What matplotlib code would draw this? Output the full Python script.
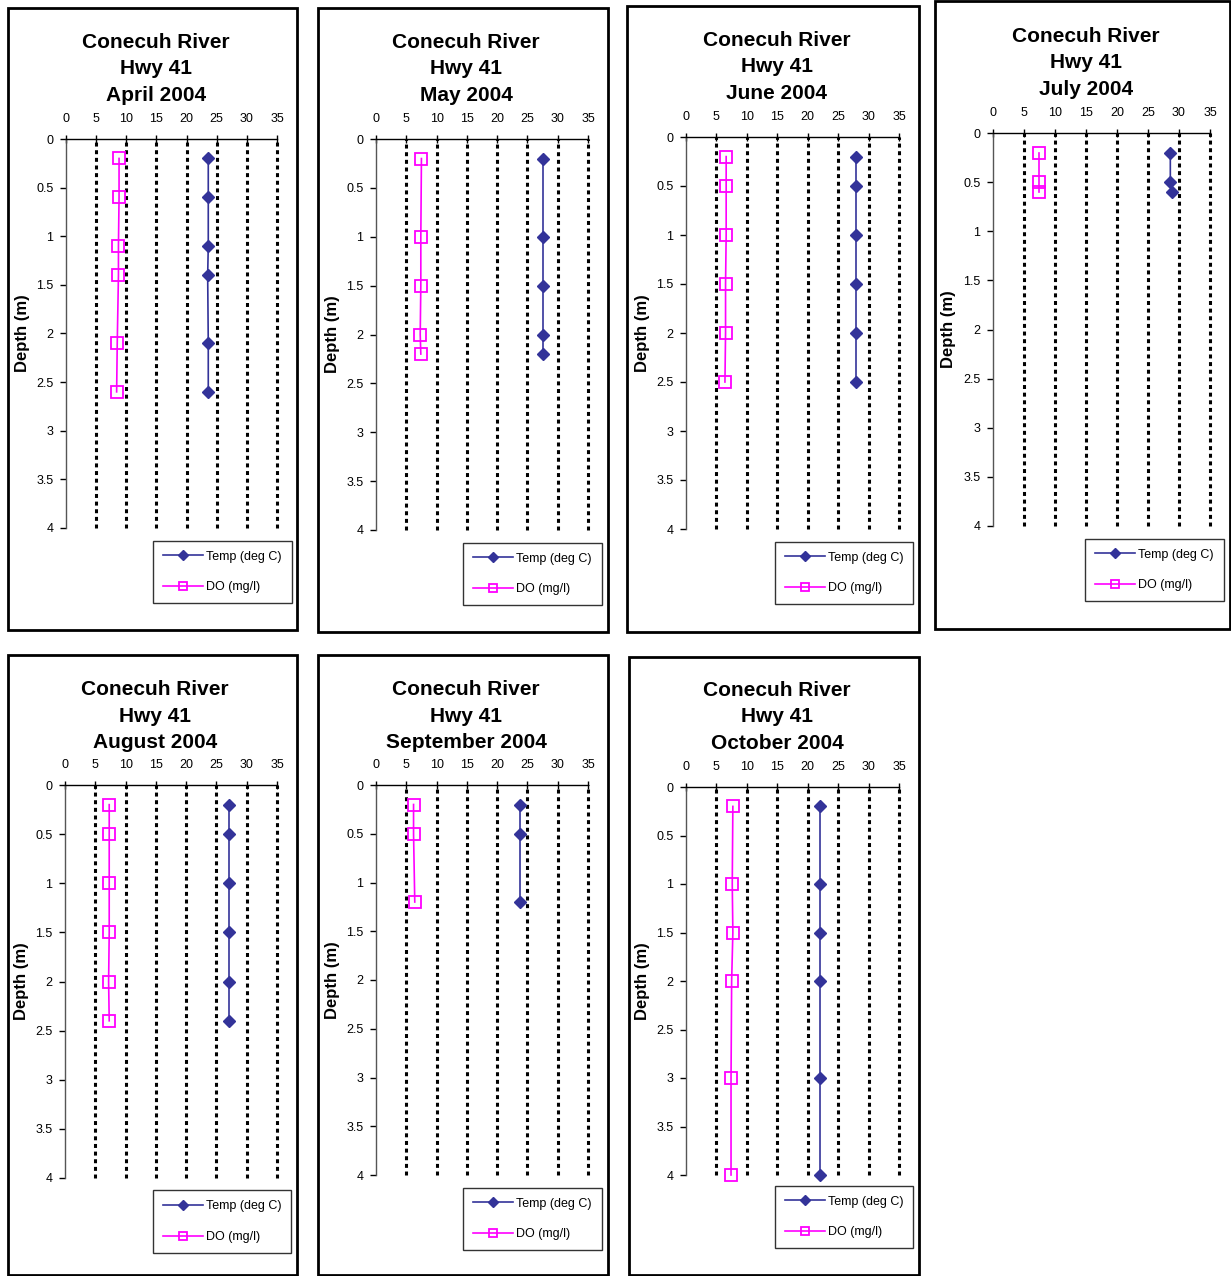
import matplotlib
matplotlib.use("Agg")
import matplotlib.pyplot as plt
from matplotlib.patches import Rectangle

plt.rcParams['font.family'] = ['Liberation Sans', 'DejaVu Sans']

months = ["April 2004", "May 2004", "June 2004", "July 2004",
          "August 2004", "September 2004", "October 2004"]

apr_depth = [0.2, 0.6, 1.1, 1.4, 2.1, 2.6]
apr_temp = [23.6, 23.6, 23.6, 23.5, 23.6, 23.6]
apr_do = [8.8, 8.8, 8.7, 8.7, 8.5, 8.4]

may_depth = [0.2, 1.0, 1.5, 2.0, 2.2]
may_temp = [27.6, 27.6, 27.6, 27.6, 27.6]
may_do = [7.5, 7.4, 7.4, 7.3, 7.4]

jun_depth = [0.2, 0.5, 1.0, 1.5, 2.0, 2.5]
jun_temp = [27.9, 27.9, 27.9, 27.9, 27.9, 27.9]
jun_do = [6.6, 6.6, 6.6, 6.5, 6.5, 6.4]

jul_depth = [0.2, 0.5, 0.6]
jul_temp = [28.6, 28.6, 28.9]
jul_do = [7.4, 7.4, 7.4]

aug_depth = [0.2, 0.5, 1.0, 1.5, 2.0, 2.4]
aug_temp = [27.1, 27.1, 27.1, 27.1, 27.1, 27.1]
aug_do = [7.3, 7.3, 7.3, 7.3, 7.2, 7.3]

sep_depth = [0.2, 0.5, 1.2]
sep_temp = [23.7, 23.7, 23.7]
sep_do = [6.2, 6.2, 6.4]

oct_depth = [0.2, 1.0, 1.5, 2.0, 3.0, 4.0]
oct_temp = [22.1, 22.1, 22.1, 22.1, 22.1, 22.1]
oct_do = [7.7, 7.6, 7.7, 7.5, 7.4, 7.4]

x_ticks = [0, 5, 10, 15, 20, 25, 30, 35]
y_ticks = [0, 0.5, 1, 1.5, 2, 2.5, 3, 3.5, 4]
y_tick_labels = ["0", "0.5", "1", "1.5", "2", "2.5", "3", "3.5", "4"]

data = [(apr_depth, apr_temp, apr_do), (may_depth, may_temp, may_do),
        (jun_depth, jun_temp, jun_do), (jul_depth, jul_temp, jul_do),
        (aug_depth, aug_temp, aug_do), (sep_depth, sep_temp, sep_do),
        (oct_depth, oct_temp, oct_do)]

# layout in pixels: frame (x0,y0,x1,y1), axes (x0,x1,ytop,ybot), title center (x, y_mid), legend (x0,y0,x1,y1)
layout = [
    ((8, 8, 297, 630), (66, 277, 139, 528), (156, 69), (155, 540, 290, 604)),
    ((318, 8, 608, 632), (376, 588, 139, 530), (466, 69), (465, 542, 600, 606)),
    ((627, 6, 919, 632), (686, 899, 137, 529), (777, 67), (776, 541, 912, 605)),
    ((935, 1, 1230, 629), (993, 1210, 133, 526), (1086, 63), (1087, 538, 1222, 602)),
    ((8, 655, 297, 1275), (65, 277, 785, 1178), (155, 716), (154, 1189, 290, 1254)),
    ((318, 655, 608, 1275), (376, 588, 785, 1175), (466, 716), (465, 1187, 600, 1251)),
    ((629, 657, 919, 1275), (686, 899, 787, 1175), (777, 717), (776, 1185, 912, 1249)),
]

W, H = 1231, 1276
fig = plt.figure(figsize=(W / 100, H / 100), dpi=100)

navy = "#333399"
mag = "#FF00FF"

for (month, (dep, temp, do), (fr, axp, tt, lg)) in zip(months, data, layout):
    fx0, fy0, fx1, fy1 = fr
    fig.patches.append(Rectangle((fx0 / W, 1 - fy1 / H), (fx1 - fx0) / W, (fy1 - fy0) / H,
                                 transform=fig.transFigure, fill=False,
                                 edgecolor="black", linewidth=2))
    ax0, ax1, ayt, ayb = axp
    ax = fig.add_axes([ax0 / W, 1 - ayb / H, (ax1 - ax0) / W, (ayb - ayt) / H])
    ax.set_xlim(0, 35)
    ax.set_ylim(4, 0)
    for xv in x_ticks[1:]:
        ax.axvline(xv, color="black", linestyle=(0, (1.3, 1.2)), linewidth=2.2,
                   zorder=1, clip_on=False)
    ax.plot(temp, dep, color=navy, marker="D", markersize=6.5, markerfacecolor=navy,
            markeredgecolor=navy, linewidth=1.2, label="Temp (deg C)", zorder=3,
            clip_on=False)
    ax.plot(do, dep, color=mag, marker="s", markersize=8, markerfacecolor="none",
            markeredgecolor=mag, markeredgewidth=1.3, linewidth=1.2,
            label="DO (mg/l)", zorder=3, clip_on=False)
    ax.xaxis.tick_top()
    ax.set_xticks(x_ticks)
    ax.set_xticklabels([str(v) for v in x_ticks])
    ax.set_yticks(y_ticks)
    ax.set_yticklabels(y_tick_labels)
    ax.tick_params(axis="x", direction="inout", length=6, width=1, labelsize=9,
                   colors="black", pad=7)
    ax.tick_params(axis="y", direction="out", length=4, width=1, labelsize=9, pad=5)
    for s in ["bottom", "right"]:
        ax.spines[s].set_visible(False)
    ax.spines["top"].set_linewidth(1)
    ax.spines["left"].set_linewidth(1)
    ax.spines["left"].set_color("#555555")
    ax.set_facecolor("none")
    ax.set_ylabel("Depth (m)", fontsize=12, fontweight="bold")
    ax.yaxis.set_label_coords(-0.17, 0.5)

    fig.text(tt[0] / W, 1 - tt[1] / H, "Conecuh River\nHwy 41\n" + month,
             ha="center", va="center", fontsize=15, fontweight="bold", linespacing=1.5)

    lx0, ly0, lx1, ly1 = lg
    leg = ax.legend(loc="center", bbox_to_anchor=(((lx0 + lx1) / 2) / W, 1 - ((ly0 + ly1) / 2) / H),
                    bbox_transform=fig.transFigure, frameon=True, fancybox=False,
                    edgecolor="black", fontsize=9, handlelength=3.2, labelspacing=1.5,
                    handletextpad=0.25, borderpad=0.8, borderaxespad=0, markerscale=0.8)
    leg.get_frame().set_linewidth(1)

fig.savefig("out.png", dpi=100)
